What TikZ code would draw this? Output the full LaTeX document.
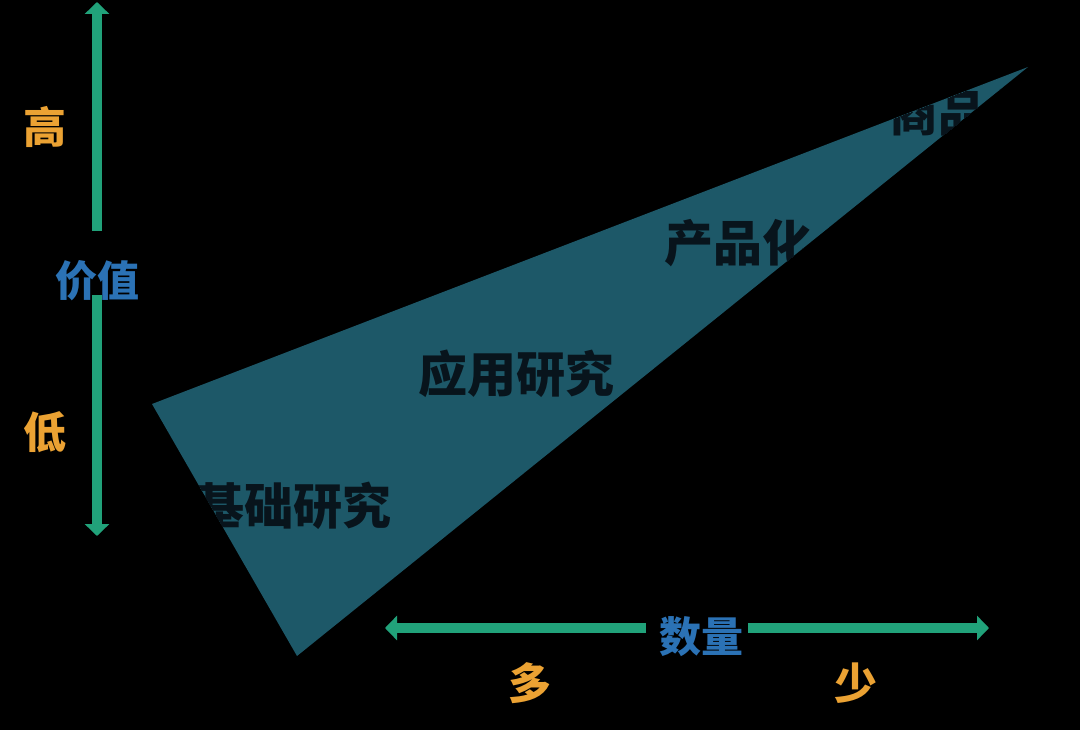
\documentclass[tikz,border=0pt]{standalone}
\usepackage{fontspec}
\newfontfamily\cjk{Noto Sans CJK SC}
\usetikzlibrary{arrows.meta}
\definecolor{bgc}{HTML}{000000}
\definecolor{tealc}{HTML}{1D5868}
\definecolor{darktxt}{HTML}{08141C}
\definecolor{arrowc}{HTML}{21A27A}
\definecolor{orangec}{HTML}{EBA233}
\definecolor{bluec}{HTML}{2B72B5}
\tikzset{
  axisline/.style={draw=arrowc, line width=10pt},
  tipend/.style={-{Triangle[length=12pt,width=24pt]}},
  stagetxt/.style={text=darktxt, font=\cjk\bfseries\fontsize{49}{49}\selectfont, inner sep=0pt},
  axisname/.style={text=bluec, font=\cjk\bfseries\fontsize{42}{42}\selectfont, inner sep=0pt},
  levtxt/.style={text=orangec, font=\cjk\bfseries\fontsize{43}{43}\selectfont, inner sep=0pt},
}
\begin{document}
\begin{tikzpicture}[x=1pt,y=-1pt]
\fill[bgc] (0,0) rectangle (1080,730);
\useasboundingbox (0,0) rectangle (1080,730);
% triangle
\coordinate (ta) at (152,404);
\coordinate (tb) at (1028,67);
\coordinate (tc) at (297,656);
\fill[tealc] (ta) -- (tb) -- (tc) -- cycle;
\begin{scope}
\clip (ta) -- (tb) -- (tc) -- cycle;
\node[stagetxt] (s1) at (293,506) {基础研究};
\node[stagetxt] (s2) at (516,374) {应用研究};
\node[stagetxt] (s3) at (738,243) {产品化};
\node[stagetxt] (s4) at (963,113) {商品化};
\end{scope}
% vertical axis
\node[axisname] (val) at (97,281) {价值};
\coordinate (vtop) at (97,2);
\coordinate (vbot) at (97,536);
\draw[axisline,tipend] (97,231) -- (vtop);
\draw[axisline,tipend] (97,295) -- (vbot);
\node[levtxt] (hi) at (45,127) {高};
\node[levtxt] (lo) at (45,432) {低};
% horizontal axis
\node[axisname] (qty) at (701,637) {数量};
\coordinate (hl) at (385,628);
\coordinate (hr) at (989,628);
\draw[axisline,tipend] (646,628) -- (hl);
\draw[axisline,tipend] (748,628) -- (hr);
\node[levtxt] (many) at (530,683) {多};
\node[levtxt] (few) at (856,683) {少};
\end{tikzpicture}
\end{document}
